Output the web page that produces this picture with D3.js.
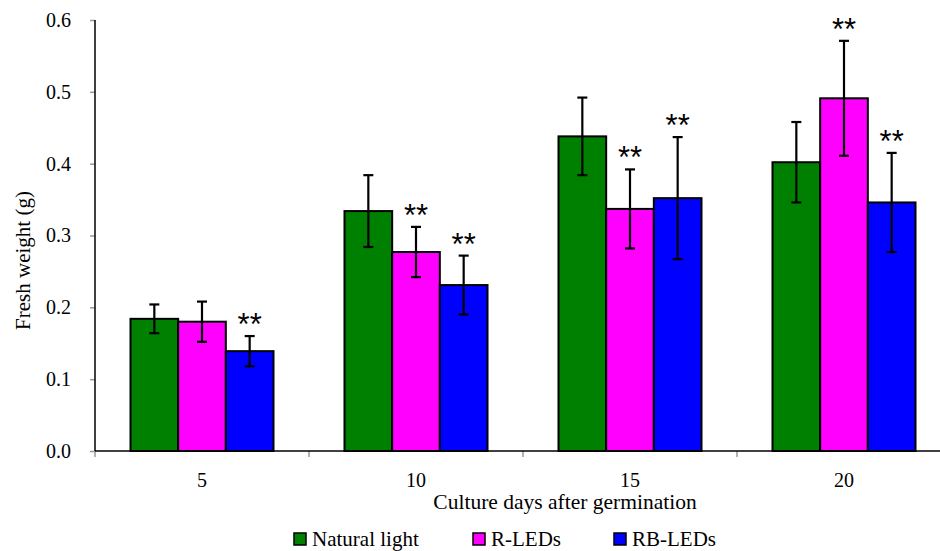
<!DOCTYPE html>
<html>
<head>
<meta charset="utf-8">
<script src="https://cdn.jsdelivr.net/npm/d3@7"></script>
<style>
  body { margin: 0; background: #fff; }
  svg { display: block; }
  svg text { font-family: "Liberation Serif", "Times New Roman", serif; }
  svg text.sig { font-family: "Liberation Sans", Arial, sans-serif; }
</style>
</head>
<body>
<svg id="chart" width="940" height="551"></svg>
<script>
// Fresh weight by culture day and light treatment
const days = ["5", "10", "15", "20"];
const series = ["Natural light", "R-LEDs", "RB-LEDs"];
const colors = ["#008000", "#ff00ff", "#0000ff"];
const naturalLight = [0.184, 0.334, 0.438, 0.402];
const naturalLightErr = [0.020, 0.050, 0.054, 0.056];
const rLEDs = [0.180, 0.277, 0.337, 0.491];
const rLEDsErr = [0.028, 0.035, 0.055, 0.080];
const rbLEDs = [0.139, 0.231, 0.352, 0.346];
const rbLEDsErr = [0.021, 0.041, 0.085, 0.069];
// "**" marks a significant difference from natural light
const rLEDsSig = [false, true, true, true];
const rbLEDsSig = [true, true, true, true];
const yTicks = [0, 0.1, 0.2, 0.3, 0.4, 0.5, 0.6];

const values = [naturalLight, rLEDs, rbLEDs];
const errors = [naturalLightErr, rLEDsErr, rbLEDsErr];
const sigs = [days.map(() => false), rLEDsSig, rbLEDsSig];

const rows = [];
days.forEach((d, i) => {
  series.forEach((s, j) => {
    rows.push({ day: d, series: s, color: colors[j], value: values[j][i], err: errors[j][i], sig: sigs[j][i] });
  });
});

const svg = d3.select("#chart");
const plotLeft = 95, plotRight = 951, plotTop = 20, plotBottom = 451;

const x = d3.scaleBand().domain(days).range([plotLeft, plotRight]).paddingInner(0).paddingOuter(0);
const groupWidth = 143;
const xs = d3.scaleBand().domain(series).range([0, groupWidth]);
const y = d3.scaleLinear().domain([0, 0.6]).range([plotBottom, plotTop]);

// y axis
const yAxis = svg.append("g").attr("transform", `translate(${plotLeft},0)`)
  .call(d3.axisLeft(y).tickValues(yTicks).tickFormat(d3.format(".1f")).tickSize(5).tickPadding(19));
yAxis.select(".domain").remove();
yAxis.selectAll(".tick line").attr("stroke", "#999").attr("stroke-width", 1.5);
yAxis.selectAll(".tick text").attr("fill", "#000").style("font-size", "20px");

// x axis ticks at category boundaries
const xBound = days.map(d => x(d)).concat([plotRight]);
svg.append("g").selectAll("line").data(xBound).join("line")
  .attr("x1", d => d).attr("x2", d => d)
  .attr("y1", plotBottom).attr("y2", plotBottom + 6)
  .attr("stroke", "#999").attr("stroke-width", 1.5);

svg.append("g").selectAll("text").data(days).join("text")
  .attr("x", d => x(d) + x.bandwidth() / 2)
  .attr("y", 487)
  .attr("text-anchor", "middle")
  .style("font-size", "20px")
  .text(d => d);

// bars
const barG = svg.append("g");
const bx = r => x(r.day) + (x.bandwidth() - groupWidth) / 2 + xs(r.series);
barG.selectAll("rect").data(rows).join("rect")
  .attr("x", r => bx(r))
  .attr("y", r => y(r.value))
  .attr("width", xs.bandwidth())
  .attr("height", r => y(0) - y(r.value))
  .attr("fill", r => r.color)
  .attr("stroke", "#000")
  .attr("stroke-width", 2);

// error bars
const errG = svg.append("g").attr("stroke", "#000").attr("stroke-width", 2.2);
rows.forEach(r => {
  const cx = bx(r) + xs.bandwidth() / 2;
  const g = errG.append("g");
  g.append("line").attr("x1", cx).attr("x2", cx).attr("y1", y(r.value + r.err)).attr("y2", y(r.value - r.err));
  g.append("line").attr("x1", cx - 5).attr("x2", cx + 5).attr("y1", y(r.value + r.err)).attr("y2", y(r.value + r.err));
  g.append("line").attr("x1", cx - 5).attr("x2", cx + 5).attr("y1", y(r.value - r.err)).attr("y2", y(r.value - r.err));
});

// significance marks
svg.append("g").selectAll("text").data(rows.filter(r => r.sig)).join("text")
  .attr("class", "sig")
  .attr("x", r => bx(r) + xs.bandwidth() / 2)
  .attr("y", r => y(r.value + r.err) - 1)
  .attr("text-anchor", "middle")
  .style("font-size", "31px")
  .text("**");

// axis lines
svg.append("line").attr("x1", plotLeft).attr("x2", plotLeft).attr("y1", plotTop).attr("y2", plotBottom)
  .attr("stroke", "#000").attr("stroke-width", 1.5);
svg.append("line").attr("x1", plotLeft).attr("x2", plotRight).attr("y1", plotBottom).attr("y2", plotBottom)
  .attr("stroke", "#000").attr("stroke-width", 1.5);

// axis titles
svg.append("text")
  .attr("transform", `translate(30,${(plotTop + plotBottom) / 2 + 25}) rotate(-90)`)
  .attr("text-anchor", "middle")
  .style("font-size", "21px")
  .text("Fresh weight (g)");

svg.append("text")
  .attr("x", 565).attr("y", 509)
  .attr("text-anchor", "middle")
  .style("font-size", "21.5px")
  .text("Culture days after germination");

// legend
const legendX = [294, 473, 614];
const leg = svg.append("g").selectAll("g").data(series).join("g")
  .attr("transform", (d, i) => `translate(${legendX[i]},533)`);
leg.append("rect").attr("width", 12).attr("height", 12)
  .attr("fill", (d, i) => colors[i]).attr("stroke", "#000").attr("stroke-width", 1.5);
leg.append("text").attr("x", 18).attr("y", 13).style("font-size", "21px").text(d => d);
</script>
</body>
</html>
